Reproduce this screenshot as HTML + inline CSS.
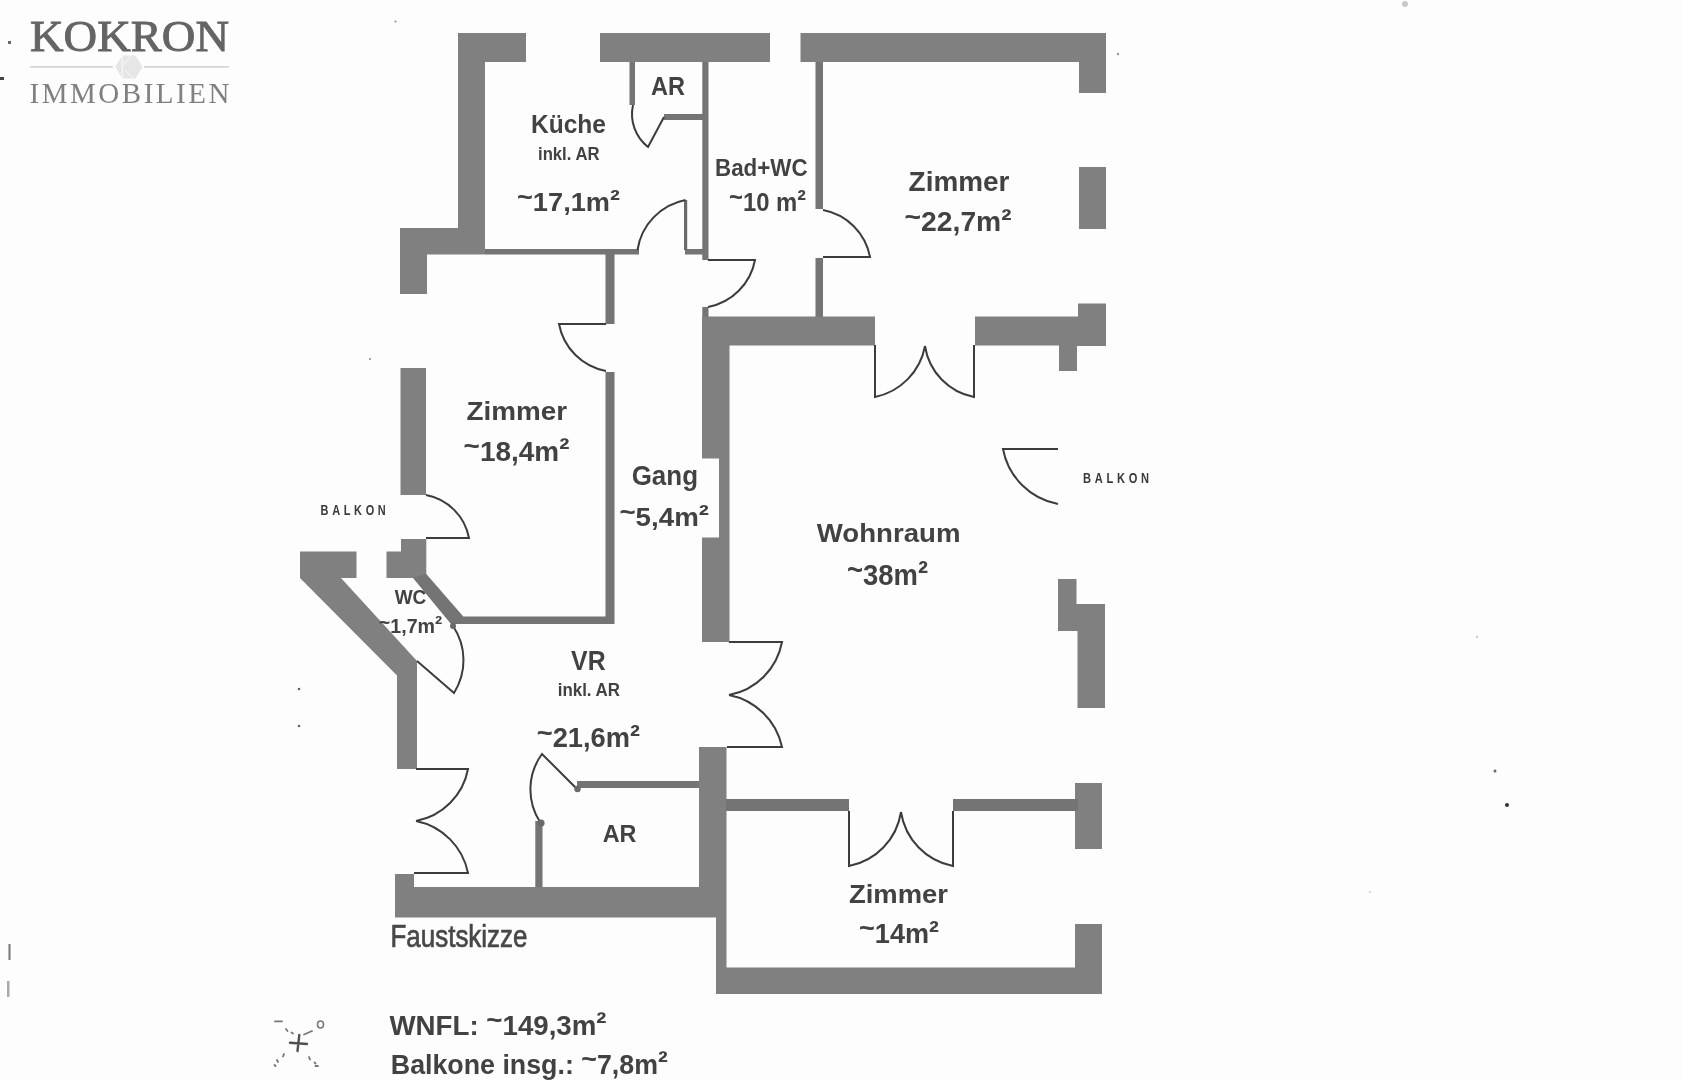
<!DOCTYPE html>
<html><head><meta charset="utf-8"><style>
html,body{margin:0;padding:0;background:#fdfdfd;}
svg{display:block;filter:grayscale(100%) blur(0.3px);}
text{font-family:"Liberation Sans",sans-serif;}
</style></head><body>
<svg width="1682" height="1080" viewBox="0 0 1682 1080">
<rect width="1682" height="1080" fill="#fdfdfd"/>

<text x="30" y="51" style="font-family:'Liberation Serif',serif" font-size="45" fill="#646464" stroke="#646464" stroke-width="0.9" textLength="199" lengthAdjust="spacingAndGlyphs">KOKRON</text>
<line x1="30" y1="66.8" x2="113" y2="66.8" stroke="#d6d6d6" stroke-width="1.8"/>
<line x1="144" y1="66.8" x2="229" y2="66.8" stroke="#d6d6d6" stroke-width="1.8"/>
<polygon points="115,67 122.5,55.5 135.5,55.5 142.5,67 135.5,78.5 122.5,78.5" fill="#e6e6e6"/>
<path d="M122.3,55 L122.3,79 M131.5,55.5 L123.5,65 M125,70 L133.2,78.5" stroke="#fafafa" stroke-width="1" fill="none"/>
<text x="29.5" y="102.5" style="font-family:'Liberation Serif',serif" font-size="29" fill="#808080" textLength="200" lengthAdjust="spacing">IMMOBILIEN</text>

<g>
<polygon points="458,33 526,33 526,62 485,62 485,254.5 427,254.5 427,294 400,294 400,228 458,228" fill="#808084"/>
<rect x="600" y="33" width="170" height="29" fill="#808084"/>
<polygon points="800.5,33 1106,33 1106,93 1079,93 1079,62 800.5,62" fill="#808084"/>
<rect x="1079" y="167" width="27" height="62" fill="#808084"/>
<polygon points="975,316.5 1078,316.5 1078,303.5 1106,303.5 1106,346 1077,346 1077,371 1059,371 1059,345.5 975,345.5" fill="#808084"/>
<polygon points="702,316.5 875,316.5 875,345.5 729.5,345.5 729.5,642 702,642 702,537.5 719,537.5 719,458.5 702,458.5" fill="#808084"/>
<polygon points="699,747 726.5,747 726.5,994 716,994 716,917.5 395,917.5 395,874 414,874 414,887 699,887" fill="#808084"/>
<rect x="716" y="967.5" width="386" height="26.5" fill="#808084"/>
<rect x="1075" y="924" width="27" height="70" fill="#808084"/>
<rect x="1075" y="783" width="27" height="66" fill="#808084"/>
<polygon points="1058,579 1076.5,579 1076.5,604 1105,604 1105,708 1077.5,708 1077.5,631 1058,631" fill="#808084"/>
<rect x="400.5" y="368" width="25.5" height="127" fill="#808084"/>
<polygon points="401,539 426.3,539 426.3,578 386.5,578 386.5,551.5 401,551.5" fill="#808084"/>
<polygon points="300,551.5 356.5,551.5 356.5,578 341,578 417,661 417,769 397,769 397,675.5 300,578" fill="#808084"/>
<rect x="629.5" y="62" width="5.5" height="43" fill="#747478"/>
<rect x="664" y="114" width="39" height="6" fill="#747478"/>
<rect x="702.3" y="62" width="6.2" height="198" fill="#747478"/>
<rect x="702.3" y="307" width="6.2" height="10" fill="#747478"/>
<rect x="815.5" y="62" width="7.5" height="147" fill="#747478"/>
<rect x="815.5" y="258" width="7.5" height="59" fill="#747478"/>
<rect x="485" y="249" width="154" height="5.5" fill="#747478"/>
<rect x="685" y="249" width="18" height="5.5" fill="#747478"/>
<rect x="605.5" y="254" width="9" height="70" fill="#747478"/>
<rect x="605.5" y="372" width="9" height="252" fill="#747478"/>
<rect x="684" y="200" width="3.2" height="50" fill="#6a6a6a"/>
<polygon points="413,578 426.3,574 463.3,616.5 614,616.5 614,624 451,624" fill="#747478"/>
<rect x="726" y="799" width="123" height="12" fill="#747478"/>
<rect x="953" y="799" width="125" height="12" fill="#747478"/>
<rect x="577" y="781" width="122" height="7" fill="#747478"/>
<rect x="535.3" y="821" width="7.2" height="66" fill="#747478"/>
</g>
<g stroke="#3c3c3c" stroke-width="2" fill="none">
<path d="M664,117 L648,147 A41.9,41.9 0 0,1 633,105"/>
<path d="M685.5,200 A60.0,60.0 0 0,0 637.5,250"/>
<path d="M708,260 L755,260 A58.8,58.8 0 0,1 708,307"/>
<path d="M823,257 L870,257 A58.8,58.8 0 0,0 823,210"/>
<path d="M606,324 L559,324 A58.8,58.8 0 0,0 606,371"/>
<path d="M875,345 L875,397 A63.8,63.8 0 0,0 925,346"/>
<path d="M974,345 L974,397 A61.2,61.2 0 0,1 925,346"/>
<path d="M1058,449 L1003,449 A68.8,68.8 0 0,0 1058,504"/>
<path d="M426,538 L469,538 A53.8,53.8 0 0,0 426,495"/>
<path d="M417,661 L454,693 A61.2,61.2 0 0,0 453,626"/>
<path d="M729,642 L782,642 A66.2,66.2 0 0,1 729,695"/>
<path d="M727,747 L782,747 A67.5,67.5 0 0,0 729,695"/>
<path d="M416,769 L468,769 A65.0,65.0 0 0,1 416,821"/>
<path d="M414,873 L468,873 A66.2,66.2 0 0,0 416,821"/>
<path d="M577,789 L542,754 A60,60 0 0,0 540,822"/>
<path d="M849,811 L849,866 A65.0,65.0 0 0,0 901,812"/>
<path d="M953,811 L953,866 A65.0,65.0 0 0,1 901,812"/>
</g>
<g>
<text x="651" y="94.5" font-size="25" font-weight="bold" fill="#424242" textLength="34" lengthAdjust="spacingAndGlyphs">AR</text>
<text x="531" y="133.4" font-size="25.5" font-weight="bold" fill="#424242" textLength="75" lengthAdjust="spacingAndGlyphs">Küche</text>
<text x="538" y="159.6" font-size="18" font-weight="bold" fill="#424242" textLength="61.5" lengthAdjust="spacingAndGlyphs">inkl. AR</text>
<text x="517" y="211" font-size="26" font-weight="bold" fill="#424242" textLength="103" lengthAdjust="spacingAndGlyphs"><tspan dy="-5.2">~</tspan><tspan dy="5.2">17,1m<tspan font-size="28.6" dy="-1.3">²</tspan></tspan></text>
<text x="715" y="176.3" font-size="24" font-weight="bold" fill="#424242" textLength="92.6" lengthAdjust="spacingAndGlyphs">Bad+WC</text>
<text x="729" y="211" font-size="26" font-weight="bold" fill="#424242" textLength="77" lengthAdjust="spacingAndGlyphs"><tspan dy="-5.2">~</tspan><tspan dy="5.2">10 m<tspan font-size="28.6" dy="-1.3">²</tspan></tspan></text>
<text x="908.6" y="191.1" font-size="27" font-weight="bold" fill="#424242" textLength="100.8" lengthAdjust="spacingAndGlyphs">Zimmer</text>
<text x="904.6" y="231.4" font-size="27" font-weight="bold" fill="#424242" textLength="107" lengthAdjust="spacingAndGlyphs"><tspan dy="-5.4">~</tspan><tspan dy="5.4">22,7m<tspan font-size="29.7" dy="-1.4">²</tspan></tspan></text>
<text x="466.4" y="419.5" font-size="25" font-weight="bold" fill="#424242" textLength="100.6" lengthAdjust="spacingAndGlyphs">Zimmer</text>
<text x="463.6" y="460.7" font-size="27" font-weight="bold" fill="#424242" textLength="105.8" lengthAdjust="spacingAndGlyphs"><tspan dy="-5.4">~</tspan><tspan dy="5.4">18,4m<tspan font-size="29.7" dy="-1.4">²</tspan></tspan></text>
<text x="631.7" y="485.2" font-size="27" font-weight="bold" fill="#424242" textLength="66.3" lengthAdjust="spacingAndGlyphs">Gang</text>
<text x="619.4" y="526" font-size="26" font-weight="bold" fill="#424242" textLength="89.6" lengthAdjust="spacingAndGlyphs"><tspan dy="-5.2">~</tspan><tspan dy="5.2">5,4m<tspan font-size="28.6" dy="-1.3">²</tspan></tspan></text>
<text x="816.8" y="542" font-size="25.5" font-weight="bold" fill="#424242" textLength="143.7" lengthAdjust="spacingAndGlyphs">Wohnraum</text>
<text x="847" y="585" font-size="29" font-weight="bold" fill="#424242" textLength="81" lengthAdjust="spacingAndGlyphs"><tspan dy="-5.8">~</tspan><tspan dy="5.8">38m<tspan font-size="31.9" dy="-1.5">²</tspan></tspan></text>
<text x="394.7" y="604.2" font-size="19.5" font-weight="bold" fill="#424242" textLength="31.6" lengthAdjust="spacingAndGlyphs">WC</text>
<text x="378.8" y="633.2" font-size="20" font-weight="bold" fill="#424242" textLength="63.4" lengthAdjust="spacingAndGlyphs"><tspan dy="-4.0">~</tspan><tspan dy="4.0">1,7m<tspan font-size="22.0" dy="-1.0">²</tspan></tspan></text>
<text x="571.1" y="670" font-size="28" font-weight="bold" fill="#424242" textLength="34.5" lengthAdjust="spacingAndGlyphs">VR</text>
<text x="557.8" y="695.6" font-size="18" font-weight="bold" fill="#424242" textLength="62.2" lengthAdjust="spacingAndGlyphs">inkl. AR</text>
<text x="536.7" y="747.2" font-size="28" font-weight="bold" fill="#424242" textLength="103.3" lengthAdjust="spacingAndGlyphs"><tspan dy="-5.6">~</tspan><tspan dy="5.6">21,6m<tspan font-size="30.8" dy="-1.4">²</tspan></tspan></text>
<text x="602.7" y="842" font-size="23.5" font-weight="bold" fill="#424242" textLength="33.8" lengthAdjust="spacingAndGlyphs">AR</text>
<text x="849" y="903" font-size="26" font-weight="bold" fill="#424242" textLength="99" lengthAdjust="spacingAndGlyphs">Zimmer</text>
<text x="859" y="943" font-size="28" font-weight="bold" fill="#424242" textLength="80" lengthAdjust="spacingAndGlyphs"><tspan dy="-5.6">~</tspan><tspan dy="5.6">14m<tspan font-size="30.8" dy="-1.4">²</tspan></tspan></text>
<text x="390.5" y="946.8" font-size="31" font-weight="normal" fill="#474747" stroke="#474747" stroke-width="0.7" textLength="137" lengthAdjust="spacingAndGlyphs">Faustskizze</text>
<text x="389.5" y="1034.5" font-size="27" font-weight="bold" fill="#424242" textLength="217" lengthAdjust="spacingAndGlyphs">WNFL: <tspan dy="-5.4">~</tspan><tspan dy="5.4">149,3m<tspan font-size="29.7" dy="-1.4">²</tspan></tspan></text>
<text x="390.8" y="1073.7" font-size="27" font-weight="bold" fill="#424242" textLength="277" lengthAdjust="spacingAndGlyphs">Balkone insg.: <tspan dy="-5.4">~</tspan><tspan dy="5.4">7,8m<tspan font-size="29.7" dy="-1.4">²</tspan></tspan></text>
<text x="320.6" y="515" font-size="15" font-weight="bold" fill="#3a3a3a" style="letter-spacing:5px" textLength="68.8" lengthAdjust="spacingAndGlyphs">BALKON</text>
<text x="1083.1" y="482.5" font-size="15" font-weight="bold" fill="#3a3a3a" style="letter-spacing:5px" textLength="69.6" lengthAdjust="spacingAndGlyphs">BALKON</text>
</g>

<rect x="8" y="41" width="3" height="3" fill="#666"/>
<rect x="0" y="77" width="4" height="3" fill="#444"/>
<circle cx="395.5" cy="21.5" r="1" fill="#888"/>
<circle cx="299" cy="689" r="1.3" fill="#666"/>
<circle cx="299" cy="726" r="1.3" fill="#666"/>
<circle cx="370" cy="359" r="1" fill="#888"/>
<rect x="8.5" y="944" width="2" height="16" fill="#777"/>
<rect x="7" y="981" width="2.5" height="16" fill="#aaa"/>
<g stroke="#505050" stroke-width="2.4" fill="none" stroke-linecap="round">
<path d="M290,1042.8 L307,1044 M299.3,1035 L297.5,1051"/>
</g>
<g stroke="#777" stroke-width="1.8" fill="none" stroke-linecap="round">
<path d="M275,1021.4 L282,1021.4 M286,1029 L287.5,1031 M291.5,1032.5 L293,1033.5 M304,1034.5 L312,1031 M284,1054 L283,1056.5 M277,1060 L278,1062 M274.5,1065 L275.5,1066 M309,1057 L310,1059.5 M314.5,1062.5 L315.5,1063.5 M315.5,1066 L318,1066"/>
<ellipse cx="320.5" cy="1024.5" rx="3" ry="3.5" stroke-width="1.6"/>
</g>
<circle cx="1405" cy="4" r="3" fill="#c8c8d0"/>
<circle cx="577.5" cy="789" r="3.2" fill="#6a6a6a"/>
<circle cx="541" cy="823" r="3.6" fill="#6a6a6a"/>
<circle cx="453" cy="626" r="3" fill="#6a6a6a"/>
<circle cx="1495" cy="771" r="1.5" fill="#666"/>
<circle cx="1118" cy="54" r="1.2" fill="#999"/>
<circle cx="1477" cy="637" r="1" fill="#bbb"/>
<circle cx="1370" cy="892" r="1" fill="#ccc"/>
<circle cx="1507" cy="805" r="2" fill="#333"/>

</svg>
</body></html>
